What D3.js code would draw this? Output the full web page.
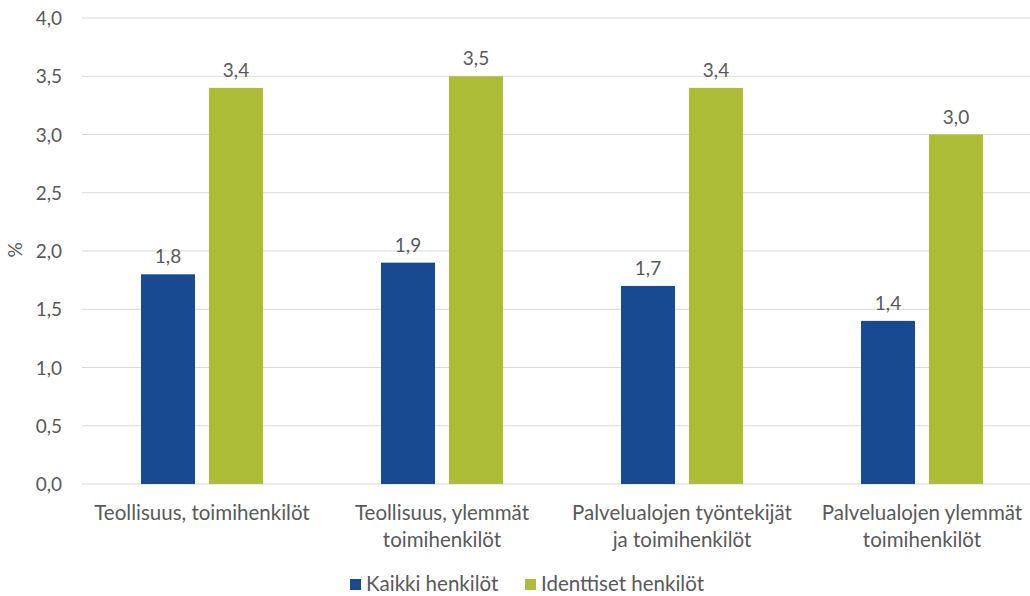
<!DOCTYPE html>
<html><head><meta charset="utf-8">
<script src="https://cdn.jsdelivr.net/npm/d3@7"></script>
<style>body{margin:0;background:#fff}text{font-family:Lato,"Open Sans",sans-serif;fill:#595959}</style>
</head><body><svg id="c" width="1030" height="596"></svg>
<script>
const categories = [["Teollisuus, toimihenkilöt"],["Teollisuus, ylemmät","toimihenkilöt"],["Palvelualojen työntekijät","ja toimihenkilöt"],["Palvelualojen ylemmät","toimihenkilöt"]];
const seriesNames = ["Kaikki henkilöt","Identtiset henkilöt"];
const kaikki = [1.8,1.9,1.7,1.4];
const identtiset = [3.4,3.5,3.4,3.0];
const yTicks = [0,0.5,1,1.5,2,2.5,3,3.5,4];
const colors = ["#174a91","#adbd37"];

(function(){
const svg = d3.select("#c");
const fs = 20.5, fn = 19;
const pLeft=82, pRight=1042, pTop=18, pBottom=484;
const x = d3.scaleBand().domain(d3.range(categories.length)).range([pLeft,pRight]);
const y = d3.scaleLinear().domain([0,4]).range([pBottom,pTop]);
const fmt = v => d3.format(".1f")(v).replace(".",",");

svg.append("g").selectAll("line").data(yTicks).join("line")
  .attr("x1",pLeft).attr("x2",pRight).attr("y1",d=>y(d)).attr("y2",d=>y(d))
  .attr("stroke","#d9d9d9").attr("stroke-width",1);
const ya = svg.append("g").attr("transform",`translate(${pLeft-20},0)`)
  .call(d3.axisLeft(y).tickValues(yTicks).tickFormat(fmt).tickSize(0));
ya.select(".domain").remove();
ya.selectAll("text").attr("font-size",fn).attr("dy","0.35em").attr("x",0).style("font-family","Lato").style("fill","#595959");

svg.append("text").attr("transform","translate(22,250) rotate(-90)").attr("text-anchor","middle")
  .attr("font-size",fn).text("%");

const barW=54, gap=14;
const series=[kaikki,identtiset];
series.forEach((vals,si)=>{
  const g=svg.append("g");
  const bx = i => x(i)+x.bandwidth()/2 + (si===0 ? -gap/2-barW : gap/2);
  g.selectAll("rect").data(vals).join("rect")
    .attr("x",(d,i)=>bx(i)).attr("width",barW)
    .attr("y",d=>y(d)).attr("height",d=>pBottom-y(d)).attr("fill",colors[si]);
  g.selectAll("text").data(vals).join("text")
    .attr("x",(d,i)=>bx(i)+barW/2).attr("y",d=>y(d)-11)
    .attr("text-anchor","middle").attr("font-size",fn).text(fmt);
});

categories.forEach((lines,i)=>{
  const t=svg.append("text").attr("text-anchor","middle").attr("font-size",fs);
  lines.forEach((l,j)=>t.append("tspan").attr("x",x(i)+x.bandwidth()/2).attr("y",520+j*27).text(l));
});

const lx=[350,525];
seriesNames.forEach((n,i)=>{
  svg.append("rect").attr("x",lx[i]).attr("y",579).attr("width",11).attr("height",11).attr("fill",colors[i]);
  svg.append("text").attr("x",lx[i]+16).attr("y",591).attr("font-size",fs).text(n);
});
})();
</script></body></html>
